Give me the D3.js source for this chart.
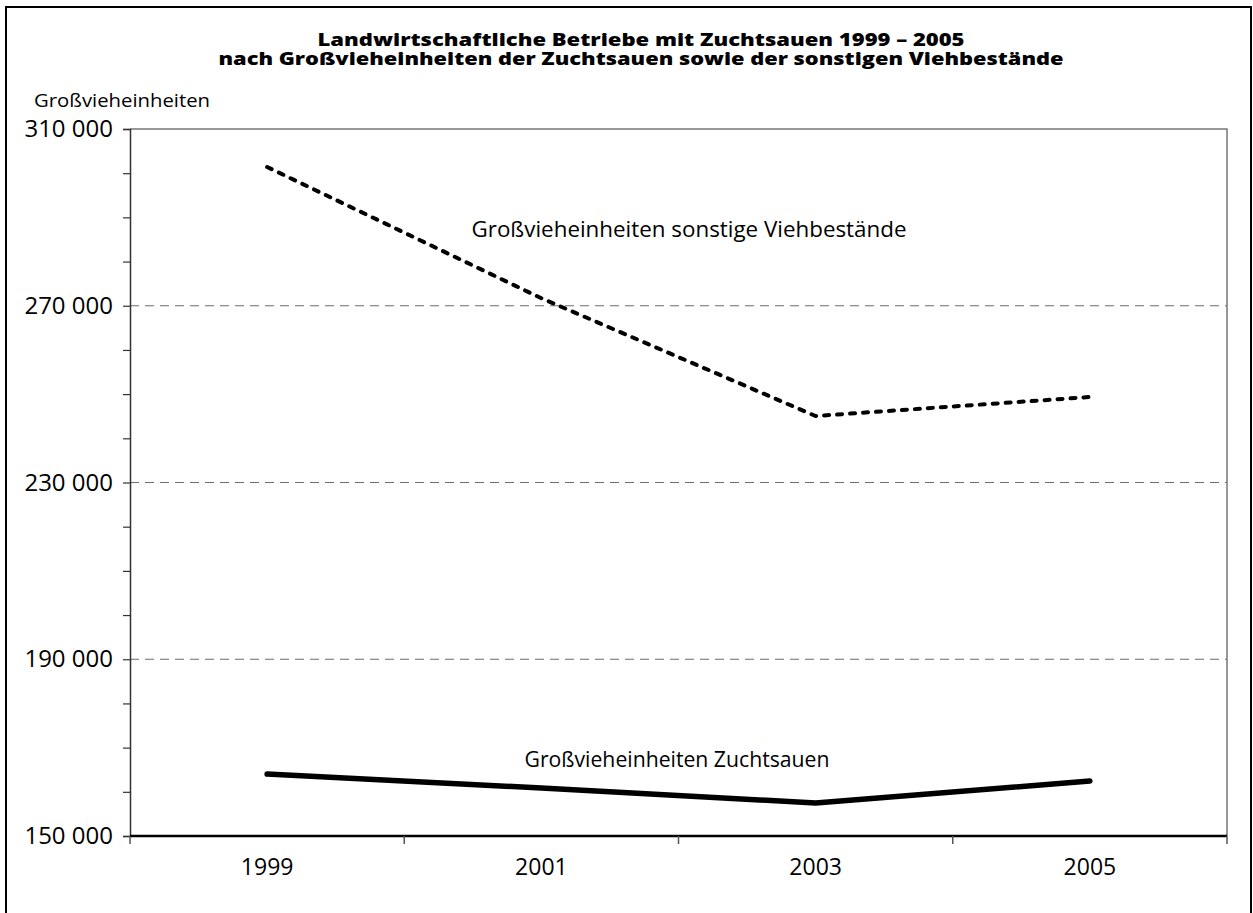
<!DOCTYPE html>
<html>
<head>
<meta charset="utf-8">
<script src="https://cdn.jsdelivr.net/npm/d3@7"></script>
<style>
  body { margin: 0; background: #fff; }
  svg { font-family: "Open Sans", "Noto Sans", sans-serif; }
</style>
</head>
<body>
<script>
const years = ["1999", "2001", "2003", "2005"];
const sonstige = [301400, 271700, 245050, 249350];
const zuchtsauen = [164030, 160860, 157470, 162450];
const yTicks = [150000, 190000, 230000, 270000, 310000];
const gridValues = [190000, 230000, 270000];
const titleLines = [
  "Landwirtschaftliche Betriebe mit Zuchtsauen 1999 – 2005",
  "nach Großvieheinheiten der Zuchtsauen sowie der sonstigen Viehbestände"
];
const titleWidths = [647, 845];

const width = 1253;
const height = 913;
const margin = { top: 129, right: 26, bottom: 77, left: 130 };

const svg = d3.select("body").append("svg")
  .attr("width", width)
  .attr("height", height);

// outer frame
svg.append("rect")
  .attr("x", 6).attr("y", 7)
  .attr("width", 1245).attr("height", 920)
  .attr("fill", "none")
  .attr("stroke", "#000")
  .attr("stroke-width", 2);

// title: one text, two lines
svg.append("text")
  .attr("text-anchor", "middle")
  .attr("font-weight", 800)
  .attr("font-size", 17.5)
  .selectAll("tspan")
  .data(titleLines)
  .join("tspan")
  .attr("x", 641)
  .attr("y", (d, i) => 45.5 + i * 19)
  .attr("textLength", (d, i) => titleWidths[i])
  .attr("lengthAdjust", "spacingAndGlyphs")
  .text((d) => d);

svg.append("text")
  .attr("x", 34)
  .attr("y", 107)
  .attr("font-size", 19)
  .attr("textLength", 176)
  .attr("lengthAdjust", "spacingAndGlyphs")
  .text("Großvieheinheiten");

const x = d3.scaleBand()
  .domain(years)
  .range([margin.left, width - margin.right]);

const y = d3.scaleLinear()
  .domain([150000, 310000])
  .range([height - margin.bottom, margin.top]);

const plot = svg.append("g");

// grid lines
plot.selectAll("line.grid")
  .data(gridValues)
  .join("line")
  .attr("class", "grid")
  .attr("x1", margin.left)
  .attr("x2", width - margin.right)
  .attr("y1", (d) => y(d))
  .attr("y2", (d) => y(d))
  .attr("stroke", "#6e6e6e")
  .attr("stroke-width", 1.2)
  .attr("stroke-dasharray", "9,6");

// top + right border of plot area
plot.append("path")
  .attr("d", `M${margin.left},${margin.top}H${width - margin.right}V${height - margin.bottom}`)
  .attr("fill", "none")
  .attr("stroke", "#777")
  .attr("stroke-width", 1.5);

const fmt = (v) => d3.format(",")(v).replace(/,/g, " ");

const yAxis = svg.append("g")
  .attr("transform", `translate(${margin.left},0)`)
  .call(d3.axisLeft(y)
    .tickValues(d3.range(150000, 310001, 10000))
    .tickSize(7)
    .tickFormat((d) => (yTicks.includes(d) ? fmt(d) : "")));
yAxis.select(".domain").attr("stroke", "#333").attr("stroke-width", 1.5);
yAxis.selectAll(".tick line").attr("stroke", "#333").attr("stroke-width", 1.2);
yAxis.selectAll(".tick text")
  .attr("font-size", 24)
  .attr("font-family", "Open Sans, Noto Sans, sans-serif")
  .attr("fill", "#000")
  .attr("x", -17);

const xAxis = svg.append("g")
  .attr("transform", `translate(0,${height - margin.bottom})`)
  .call(d3.axisBottom(x).tickSize(0).tickPadding(18));
xAxis.select(".domain").remove();
xAxis.selectAll(".tick text")
  .attr("font-size", 23)
  .attr("font-family", "Open Sans, Noto Sans, sans-serif")
  .attr("fill", "#000")
  .attr("dy", "0.9em");

svg.append("line")
  .attr("x1", margin.left).attr("x2", width - margin.right)
  .attr("y1", y(150000)).attr("y2", y(150000))
  .attr("stroke", "#000").attr("stroke-width", 2.5);

// category boundary ticks
svg.append("g")
  .selectAll("line")
  .data(years.map((d) => x(d)).concat([x(years[years.length - 1]) + x.bandwidth()]))
  .join("line")
  .attr("x1", (d) => d).attr("x2", (d) => d)
  .attr("y1", y(150000)).attr("y2", y(150000) + 8)
  .attr("stroke", "#555").attr("stroke-width", 1.5);

const line = d3.line()
  .x((d, i) => x(years[i]) + x.bandwidth() / 2)
  .y((d) => y(d));

svg.append("path")
  .datum(sonstige)
  .attr("d", line)
  .attr("fill", "none")
  .attr("stroke", "#000")
  .attr("stroke-width", 4)
  .attr("stroke-dasharray", "5,8")
  .attr("stroke-linecap", "round");

svg.append("path")
  .datum(zuchtsauen)
  .attr("d", line)
  .attr("fill", "none")
  .attr("stroke", "#000")
  .attr("stroke-width", 5.5)
  .attr("stroke-linejoin", "round")
  .attr("stroke-linecap", "round");

svg.append("text")
  .attr("x", 689).attr("y", 237)
  .attr("text-anchor", "middle")
  .attr("font-size", 21)
  .attr("textLength", 435)
  .attr("lengthAdjust", "spacingAndGlyphs")
  .text("Großvieheinheiten sonstige Viehbestände");

svg.append("text")
  .attr("x", 677).attr("y", 767)
  .attr("text-anchor", "middle")
  .attr("font-size", 21)
  .attr("textLength", 305)
  .attr("lengthAdjust", "spacingAndGlyphs")
  .text("Großvieheinheiten Zuchtsauen");
</script>
</body>
</html>
